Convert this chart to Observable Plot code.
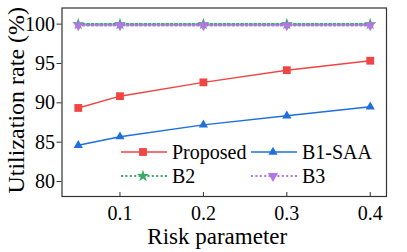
<!DOCTYPE html>
<html>
<head>
<meta charset="utf-8">
<script src="https://cdn.jsdelivr.net/npm/d3@7"></script>
<script src="https://cdn.jsdelivr.net/npm/@observablehq/plot@0.6"></script>
<style>
  html, body { margin: 0; padding: 0; background: #fff; }
  #wrap { position: relative; width: 407px; height: 252px; font-family: 'Liberation Serif', 'Times New Roman', serif; }
  #wrap svg { display: block; }
  #legend { position: absolute; left: 0; top: 0; pointer-events: none; }
</style>
</head>
<body>
<div id="wrap"></div>
<script>
// ---- data ----
const riskParams = [0.05, 0.1, 0.2, 0.3, 0.4];
const proposed = [89.35, 90.85, 92.6, 94.15, 95.35];
const b1saa = [84.6, 85.7, 87.2, 88.35, 89.5];
const b2 = [100, 100, 100, 100, 100];
const b3 = [99.85, 99.85, 99.85, 99.85, 99.85];
const seriesNames = ["Proposed", "B1-SAA", "B2", "B3"];
const xTicks = [0.1, 0.2, 0.3, 0.4];
const yTicks = [80, 85, 90, 95, 100];
const xLabel = "Risk parameter";
const yLabel = "Utilization rate (%)";

// ---- styles ----
const FONT = "'Liberation Serif', 'Times New Roman', serif";
const styles = {
  "Proposed": {color: "#f04545", dash: null, width: 1.5, symbol: "square", r: 4.4, rotate: 0},
  "B1-SAA":   {color: "#1f6fdc", dash: null, width: 1.5, symbol: "triangle", r: 3.4, rotate: 0},
  "B2":       {color: "#3aaa68", dash: "2,2.4", width: 2.2, symbol: "star", r: 3.8, rotate: 0},
  "B3":       {color: "#b377e4", dash: "2,2.4", width: 2.2, symbol: "triangle", r: 3.8, rotate: 180}
};
const valuesBySeries = {"Proposed": proposed, "B1-SAA": b1saa, "B2": b2, "B3": b3};

const rows = [];
for (const name of seriesNames) {
  valuesBySeries[name].forEach((v, i) => rows.push({series: name, x: riskParams[i], y: v}));
}

const W = 407, H = 252;
const marks = [];
for (const name of seriesNames) {
  const s = styles[name];
  const data = rows.filter(d => d.series === name);
  marks.push(Plot.line(data, {x: "x", y: "y", stroke: s.color, strokeWidth: s.width,
    strokeDasharray: s.dash}));
  marks.push(Plot.dot(data, {x: "x", y: "y", symbol: s.symbol, r: s.r, fill: s.color,
    stroke: "none", rotate: s.rotate}));
}

const chart = Plot.plot({
  width: W,
  height: H,
  marginLeft: 61.5,
  marginRight: 21,
  marginTop: 7.5,
  marginBottom: 56,
  style: {fontFamily: FONT, fontSize: "20px", color: "#000", background: "#fff"},
  x: {domain: [0.0305, 0.4195], ticks: xTicks, label: null},
  y: {domain: [78.1, 102.05], ticks: yTicks, label: null},
  marks: [
    ...marks,
    Plot.frame({stroke: "#333", strokeWidth: 1.2}),
    Plot.axisY({ticks: yTicks, tickSize: 5, tickPadding: 2, fontSize: 20, label: null, stroke: "#333"}),
    Plot.axisX({ticks: xTicks, tickSize: -4, tickPadding: 13, fontSize: 20, label: null,
      tickFormat: d => String(d), stroke: "#333"}),
    Plot.text([xLabel], {frameAnchor: "bottom", dy: 31, dx: -7, fontSize: 23, lineAnchor: "top",
      textAnchor: "middle", fill: "#000"}),
    Plot.text([yLabel], {frameAnchor: "left", dx: -46, dy: -2, rotate: -90, fontSize: 24,
      textAnchor: "middle", fill: "#000"})
  ]
});
document.getElementById("wrap").appendChild(chart);

// ---- legend (overlay) ----
const legendLayout = [
  {name: "Proposed", x: 121, y: 152},
  {name: "B1-SAA", x: 251, y: 152},
  {name: "B2", x: 121, y: 176},
  {name: "B3", x: 251, y: 176}
];
const leg = d3.select("#wrap").append("svg")
  .attr("id", "legend").attr("width", W).attr("height", H);
const symMap = {square: d3.symbolSquare, triangle: d3.symbolTriangle, star: d3.symbolStar};
for (const item of legendLayout) {
  const s = styles[item.name];
  const g = leg.append("g").attr("transform", `translate(${item.x},${item.y})`);
  g.append("line").attr("x1", 0).attr("x2", 46).attr("y1", 0).attr("y2", 0)
    .attr("stroke", s.color).attr("stroke-width", s.width)
    .attr("stroke-dasharray", s.dash);
  g.append("path")
    .attr("d", d3.symbol(symMap[s.symbol], Math.PI * s.r * s.r)())
    .attr("transform", `translate(22,0) rotate(${s.rotate})`)
    .attr("fill", s.color);
  g.append("text").attr("x", 51).attr("y", 6.5)
    .style("font-family", FONT).style("font-size", "20px").attr("fill", "#000")
    .text(item.name);
}
</script>
</body>
</html>
